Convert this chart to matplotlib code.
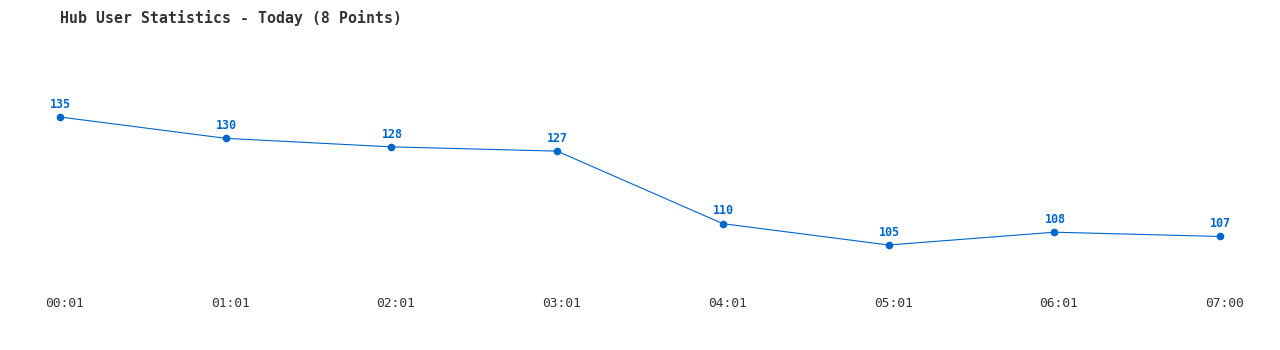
import matplotlib
matplotlib.use("Agg")
import matplotlib.pyplot as plt
from matplotlib.transforms import ScaledTranslation

# Data
times = ['00:01', '01:01', '02:01', '03:01', '04:01', '05:01', '06:01', '07:00']
users = [135, 130, 128, 127, 110, 105, 108, 107]

blue = '#0066cc'
mono = ['DejaVu Sans Mono']

fig = plt.figure(figsize=(12.8, 3.5), dpi=100)
W, H = 1280, 350
# axes spans x px 60..1220 and y px 117..290 (top-origin)
ax = fig.add_axes([60 / W, 1 - 290 / H, (1220 - 60) / W, (290 - 117) / H])

x = list(range(len(users)))
ax.plot(x, users, color=blue, lw=0.8, marker='o', ms=4.5, clip_on=False)
for xi, v in zip(x, users):
    ax.annotate(str(v), (xi, v), xytext=(0.5, 4.5), textcoords='offset points',
                ha='center', va='bottom', color=blue, fontsize=8.4,
                fontweight='bold', family=mono)

px_per_unit = (245 - 117) / (max(users) - min(users))
ax.set_xlim(0, len(users) - 1)
ax.set_ylim(max(users) - (290 - 117) / px_per_unit, max(users))
ax.set_xticks(x)
ax.set_xticklabels(times, family=mono, fontsize=9.3, color='#333333')
ax.tick_params(axis='x', length=0, pad=5)
shift = ScaledTranslation(4.5 / 100, 0, fig.dpi_scale_trans)
for lbl in ax.get_xticklabels():
    lbl.set_transform(lbl.get_transform() + shift)
ax.set_yticks([])
for s in ax.spines.values():
    s.set_visible(False)

fig.text(60 / W, 1 - 18 / H, 'Hub User Statistics - Today (8 Points)',
         family=mono, fontsize=10.7, fontweight='bold', color='#333333',
         ha='left', va='center')

fig.savefig('out.png', dpi=100, facecolor='white')
